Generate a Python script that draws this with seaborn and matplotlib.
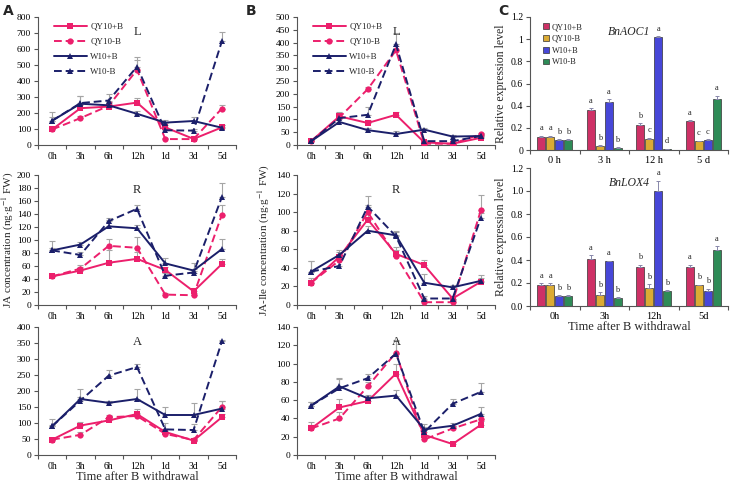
import numpy as np
import pandas as pd
import seaborn as sns
import matplotlib.pyplot as plt

times = ['0h', '3h', '6h', '12h', '1d', '3d', '5d']
groups = ['QY10+B', 'QY10-B', 'W10+B', 'W10-B']

# JA (panel A), ng/g FW
ja_leaf = {'QY10+B': [97, 230, 240, 265, 110, 38, 110],
           'QY10-B': [97, 168, 245, 470, 37, 37, 228],
           'W10+B': [152, 258, 248, 195, 140, 150, 108],
           'W10-B': [152, 262, 278, 490, 92, 90, 648]}
ja_leaf_err = {'QY10+B': [10, 20, 15, 30, 15, 8, 15],
               'QY10-B': [10, 15, 20, 60, 8, 8, 25],
               'W10+B': [55, 50, 20, 20, 15, 25, 15],
               'W10-B': [20, 45, 40, 60, 15, 10, 60]}
ja_root = {'QY10+B': [44, 53, 65, 71, 54, 21, 63],
           'QY10-B': [44, 56, 91, 88, 16, 15, 139],
           'W10+B': [84, 93, 121, 118, 64, 53, 86],
           'W10-B': [84, 77, 129, 148, 45, 50, 166]}
ja_root_err = {'QY10+B': [2, 5, 20, 10, 5, 5, 8],
               'QY10-B': [2, 6, 10, 16, 3, 3, 15],
               'W10+B': [14, 4, 10, 5, 9, 12, 15],
               'W10-B': [3, 5, 5, 6, 5, 5, 22]}
ja_apex = {'QY10+B': [48, 92, 108, 128, 72, 45, 118],
           'QY10-B': [48, 63, 118, 122, 66, 47, 150],
           'W10+B': [90, 175, 163, 175, 125, 125, 145],
           'W10-B': [90, 170, 248, 275, 80, 78, 355]}
ja_apex_err = {'QY10+B': [5, 10, 8, 15, 10, 5, 10],
               'QY10-B': [5, 8, 8, 10, 8, 5, 20],
               'W10+B': [22, 32, 5, 30, 25, 37, 25],
               'W10-B': [5, 10, 18, 8, 20, 18, 5]}

# JA-Ile (panel B)
jaile_leaf = {'QY10+B': [15, 112, 86, 118, 10, 5, 28],
              'QY10-B': [15, 108, 218, 370, 5, 5, 42],
              'W10+B': [15, 90, 58, 43, 60, 33, 35],
              'W10-B': [15, 105, 118, 393, 15, 15, 35]}
jaile_leaf_err = {'QY10+B': [3, 15, 10, 12, 3, 3, 5],
                  'QY10-B': [3, 10, 10, 15, 3, 3, 5],
                  'W10+B': [3, 10, 10, 12, 5, 5, 5],
                  'W10-B': [3, 20, 30, 45, 3, 3, 5]}
jaile_root = {'QY10+B': [24, 52, 92, 55, 43, 7, 25],
              'QY10-B': [24, 48, 100, 53, 3, 3, 102],
              'W10+B': [36, 54, 80, 75, 24, 19, 26],
              'W10-B': [36, 42, 106, 74, 7, 7, 94]}
jaile_root_err = {'QY10+B': [5, 5, 8, 7, 6, 3, 4],
                  'QY10-B': [3, 6, 8, 6, 2, 2, 16],
                  'W10+B': [11, 5, 5, 5, 9, 3, 6],
                  'W10-B': [11, 6, 11, 5, 3, 3, 5]}
jaile_apex = {'QY10+B': [29, 52, 59, 89, 22, 12, 33],
              'QY10-B': [29, 40, 75, 112, 17, 29, 39],
              'W10+B': [54, 75, 62, 65, 28, 32, 45],
              'W10-B': [54, 73, 84, 111, 25, 56, 69]}
jaile_apex_err = {'QY10+B': [7, 9, 5, 10, 5, 2, 4],
                  'QY10-B': [4, 7, 5, 14, 3, 3, 4],
                  'W10+B': [4, 9, 4, 6, 6, 3, 8],
                  'W10-B': [4, 10, 5, 14, 6, 5, 10]}

# qRT-PCR (panel C)
gene_times = ['0 h', '3 h', '12 h', '5 d']
gene_times2 = ['0h', '3h', '12h', '5d']
aoc1 = {'QY10+B': [0.12, 0.36, 0.23, 0.26],
        'QY10-B': [0.12, 0.04, 0.10, 0.08],
        'W10+B': [0.09, 0.43, 1.02, 0.09],
        'W10-B': [0.09, 0.02, 0.01, 0.46]}
aoc1_err = {'QY10+B': [0.01, 0.02, 0.01, 0.01],
            'QY10-B': [0.01, 0.005, 0.01, 0.005],
            'W10+B': [0.005, 0.03, 0.01, 0.01],
            'W10-B': [0.005, 0.005, 0.002, 0.03]}
aoc1_sig = {'QY10+B': ['a', 'a', 'b', 'a'],
            'QY10-B': ['a', 'b', 'c', 'c'],
            'W10+B': ['b', 'a', 'a', 'c'],
            'W10-B': ['b', 'b', 'd', 'a']}
lox4 = {'QY10+B': [0.18, 0.41, 0.34, 0.34],
        'QY10-B': [0.18, 0.10, 0.16, 0.18],
        'W10+B': [0.09, 0.39, 1.00, 0.13],
        'W10-B': [0.09, 0.07, 0.13, 0.49]}
lox4_err = {'QY10+B': [0.02, 0.03, 0.02, 0.02],
            'QY10-B': [0.02, 0.02, 0.03, 0.005],
            'W10+B': [0.005, 0.005, 0.09, 0.02],
            'W10-B': [0.005, 0.005, 0.005, 0.03]}
lox4_sig = {'QY10+B': ['a', 'a', 'b', 'a'],
            'QY10-B': ['a', 'b', 'b', 'b'],
            'W10+B': ['b', 'a', 'a', 'b'],
            'W10-B': ['b', 'b', 'b', 'a']}

line_colors = {'QY10+B': '#ec1f6c', 'QY10-B': '#ec1f6c',
               'W10+B': '#1b1f6a', 'W10-B': '#1b1f6a'}
line_markers = {'QY10+B': 's', 'QY10-B': 'o', 'W10+B': '^', 'W10-B': '^'}
line_dashes = {'QY10+B': '', 'QY10-B': (4, 2), 'W10+B': '', 'W10-B': (4, 2)}
bar_colors = {'QY10+B': '#e8175d', 'QY10-B': '#f7b718',
              'W10+B': '#2f2ff0', 'W10-B': '#1e9a55'}

sns.set_style('ticks')
plt.rcParams['font.family'] = ['Liberation Serif', 'DejaVu Serif']
plt.rcParams['mathtext.fontset'] = 'stix'
plt.rcParams['axes.edgecolor'] = '#555555'
plt.rcParams['xtick.color'] = '#555555'
plt.rcParams['ytick.color'] = '#555555'
plt.rcParams['xtick.labelcolor'] = 'black'
plt.rcParams['ytick.labelcolor'] = 'black'

W, H = 730, 484
fig = plt.figure(figsize=(W / 100, H / 100), dpi=100)


def px_axes(x0, y0, x1, y1):
    return fig.add_axes([x0 / W, 1 - y1 / H, (x1 - x0) / W, (y1 - y0) / H])


def line_panel(ax, vals, errs, ymax, ystep, title, legend=False):
    rows = []
    for g in groups:
        for i, v in enumerate(vals[g]):
            rows.append({'pos': i, 'val': v, 'group': g})
    df = pd.DataFrame(rows)
    for g in groups:
        ax.errorbar(range(len(times)), vals[g],
                    yerr=[np.zeros(len(times)), errs[g]], fmt='none',
                    ecolor='#a5a5a5', elinewidth=0.8, capsize=2, capthick=0.8,
                    zorder=1)
    sns.lineplot(data=df, x='pos', y='val', hue='group', style='group',
                 hue_order=groups, style_order=groups, palette=line_colors,
                 markers=line_markers, dashes=line_dashes, markersize=4.5,
                 markeredgewidth=0, linewidth=1.4, ax=ax, legend=legend,
                 zorder=3)
    ax.set_xlim(-0.5, 6.5)
    ax.set_ylim(0, ymax)
    ax.set_yticks(np.arange(0, ymax + 1, ystep))
    ax.set_xticks(range(len(times)))
    ax.set_xticklabels(times)
    ax.set_xticks(np.arange(-0.5, 7, 1), minor=True)
    ax.tick_params(axis='x', which='major', length=0, labelsize=7, pad=5)
    ax.tick_params(axis='x', which='minor', length=3, width=0.8)
    ax.tick_params(axis='y', length=3, width=0.8, labelsize=6.8, pad=2)
    ax.set_xlabel('')
    ax.set_ylabel('')
    ax.text(3, ymax * 0.93, title, ha='center', va='top', fontsize=9)
    sns.despine(ax=ax)
    if legend:
        sns.move_legend(ax, 'upper left', bbox_to_anchor=(0.04, 1.02),
                        frameon=False, title=None, fontsize=6.5,
                        handlelength=3.6, labelspacing=0.75, handletextpad=0.4)


def bar_panel(ax, vals, errs, sig, labels, title, fmt, legend=False):
    rows = []
    for g in groups:
        for i, v in enumerate(vals[g]):
            rows.append({'time': labels[i], 'val': v, 'group': g})
    df = pd.DataFrame(rows)
    sns.barplot(data=df, x='time', y='val', hue='group', hue_order=groups,
                order=labels, palette=bar_colors, width=0.72, gap=0.12,
                edgecolor='#333333', linewidth=0.5, ax=ax, legend=legend,
                errorbar=None)
    for cont, g in zip(ax.containers, groups):
        for k, bar in enumerate(cont):
            xc = bar.get_x() + bar.get_width() / 2
            top = vals[g][k] + errs[g][k]
            ax.errorbar(xc, vals[g][k], yerr=[[0], [errs[g][k]]], fmt='none',
                        ecolor='#8888aa', elinewidth=0.7, capsize=1.5,
                        capthick=0.7)
            ax.text(xc, top + 0.03, sig[g][k], ha='center', va='bottom',
                    fontsize=6)
    ax.set_ylim(0, 1.2)
    ax.set_yticks(np.arange(0, 1.21, 0.2))
    ax.set_yticklabels([fmt(t) for t in np.arange(0, 1.21, 0.2)])
    ax.set_xlim(-0.5, 3.5)
    ax.set_xticks(np.arange(-0.5, 4, 1), minor=True)
    ax.tick_params(axis='x', which='major', length=0, labelsize=7.5, pad=4)
    ax.tick_params(axis='x', which='minor', length=3, width=0.8)
    ax.tick_params(axis='y', length=3, width=0.8, labelsize=7, pad=2)
    ax.set_xlabel('')
    ax.set_ylabel('Relative expression level', fontsize=8.5, labelpad=3)
    ax.text(1.5, 1.12, title, ha='center', va='top', fontsize=8.5,
            style='italic')
    sns.despine(ax=ax)
    if legend:
        sns.move_legend(ax, 'upper left', bbox_to_anchor=(0.03, 1.01),
                        frameon=False, title=None, fontsize=6,
                        handlelength=0.7, handleheight=0.7,
                        labelspacing=0.45, handletextpad=0.3)


rows_y = [(17, 145), (175, 305), (327, 455)]

axA = [px_axes(38, y0, 236, y1) for y0, y1 in rows_y]
line_panel(axA[0], ja_leaf, ja_leaf_err, 800, 100, 'L', legend=True)
line_panel(axA[1], ja_root, ja_root_err, 200, 20, 'R')
line_panel(axA[2], ja_apex, ja_apex_err, 400, 50, 'A')
axA[2].set_xlabel('Time after B withdrawal', fontsize=9, labelpad=0)
fig.text(8 / W, 1 - 240 / H, r'JA concentration (ng$\cdot$g$^{-1}$ FW)',
         rotation=90, ha='center', va='center', fontsize=8)

axB = [px_axes(297, y0, 495, y1) for y0, y1 in rows_y]
line_panel(axB[0], jaile_leaf, jaile_leaf_err, 500, 50, 'L', legend=True)
line_panel(axB[1], jaile_root, jaile_root_err, 140, 20, 'R')
line_panel(axB[2], jaile_apex, jaile_apex_err, 140, 20, 'A')
axB[2].set_xlabel('Time after B withdrawal', fontsize=9, labelpad=0)
fig.text(264 / W, 1 - 240 / H, r'JA-Ile concentration (ng$\cdot$g$^{-1}$ FW)',
         rotation=90, ha='center', va='center', fontsize=8)

axC1 = px_axes(530, 17, 728, 150)
bar_panel(axC1, aoc1, aoc1_err, aoc1_sig, gene_times, 'BnAOC1',
          lambda t: f'{t:g}', legend=True)
axC2 = px_axes(530, 168, 728, 306)
bar_panel(axC2, lox4, lox4_err, lox4_sig, gene_times2, 'BnLOX4',
          lambda t: f'{t:.1f}')
axC2.set_xlabel('Time after B withdrawal', fontsize=9, labelpad=0)

for lab, x in [('A', 3), ('B', 246), ('C', 498)]:
    fig.text(x / W, 1 - 4 / H, lab, ha='left', va='top', fontsize=10,
             fontweight='bold', family='DejaVu Sans')

fig.savefig('out.png', dpi=100)
